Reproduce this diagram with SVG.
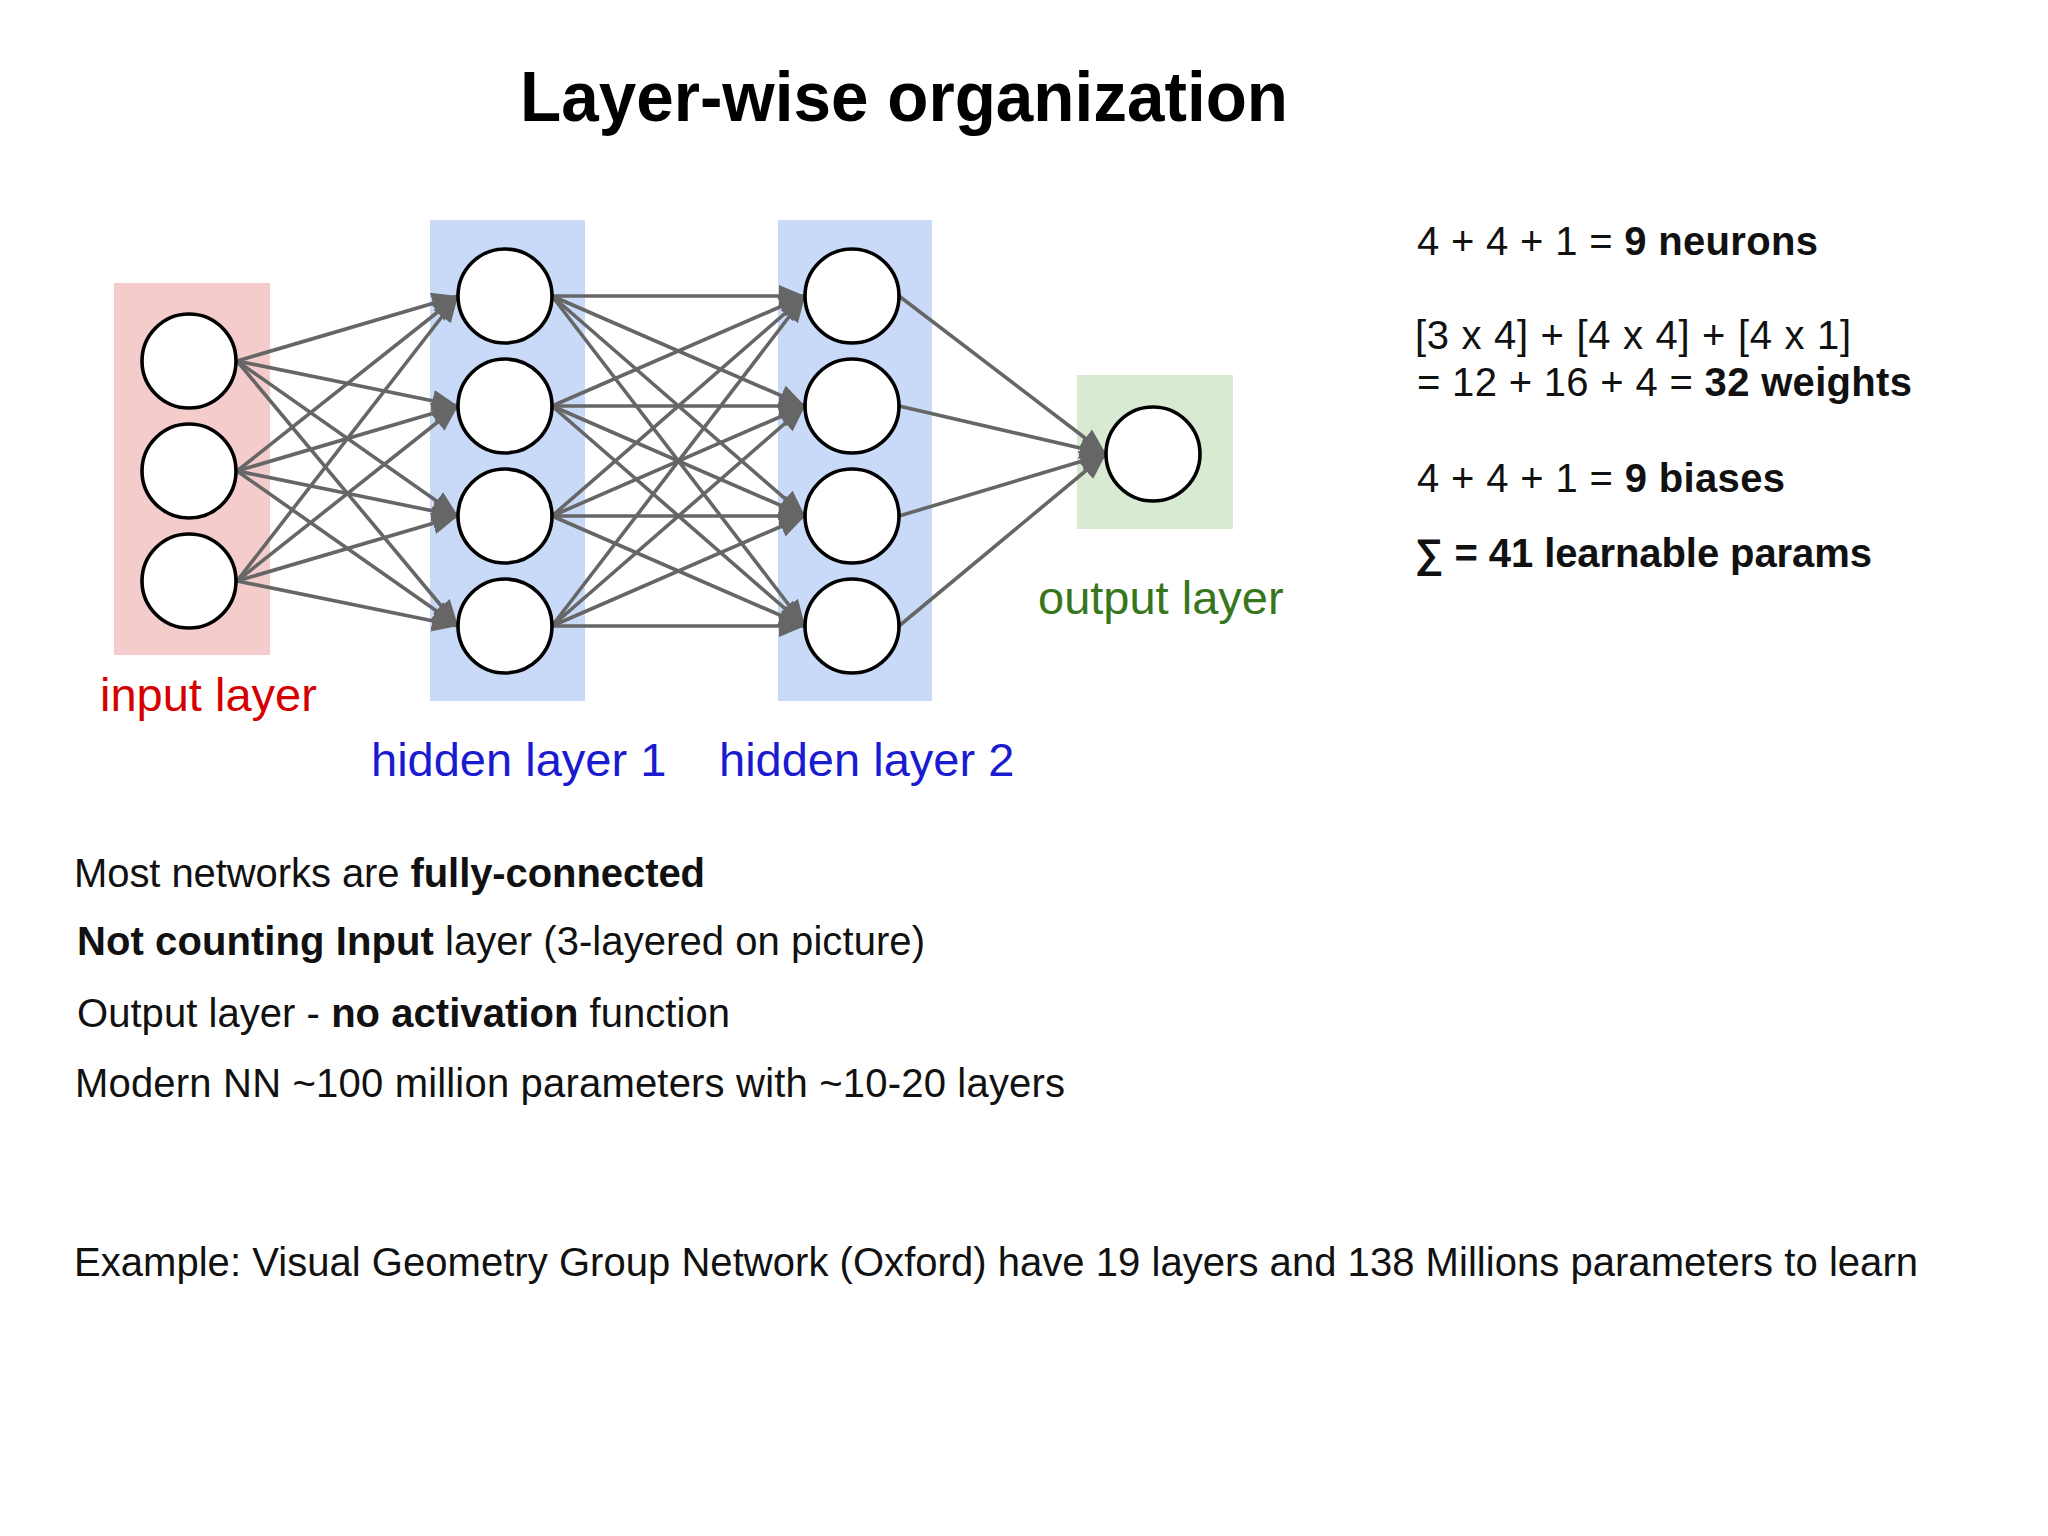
<svg xmlns="http://www.w3.org/2000/svg" width="2048" height="1536" viewBox="0 0 2048 1536">
<style>
text{font-family:"Liberation Sans",Arial,Helvetica,sans-serif;}
.b{font-weight:bold;}
.body{font-size:40px;fill:#111;}
.lbl{font-size:47px;}
.n{fill:#fff;stroke:#000;stroke-width:3.6;}
.c{stroke:#666;stroke-width:3.6;fill:none;marker-end:url(#ah);}
</style>
<defs>
<marker id="ah" markerUnits="userSpaceOnUse" markerWidth="26" markerHeight="22" viewBox="0 0 26 22" refX="26" refY="11" orient="auto">
<path d="M0,0 L26,11 L0,22 Z" fill="#666"/>
</marker>
</defs>
<rect width="2048" height="1536" fill="#fff"/>
<text id="title" x="520" y="121" class="b" font-size="71" textLength="768" lengthAdjust="spacingAndGlyphs" fill="#000">Layer-wise organization</text>

<g id="layer-backgrounds">
<rect id="input-bg" x="114" y="283" width="156" height="372" fill="#f4cccc"/>
<rect id="hidden1-bg" x="430" y="220" width="155" height="481" fill="#c9daf8"/>
<rect id="hidden2-bg" x="778" y="220" width="154" height="481" fill="#c9daf8"/>
<rect id="output-bg" x="1077" y="375" width="156" height="154" fill="#d9ead3"/>
</g>

<g id="connectors">
<line class="c" x1="237" y1="361" x2="458" y2="296"/>
<line class="c" x1="237" y1="361" x2="458" y2="406"/>
<line class="c" x1="237" y1="361" x2="458" y2="516"/>
<line class="c" x1="237" y1="361" x2="458" y2="626"/>
<line class="c" x1="237" y1="471" x2="458" y2="296"/>
<line class="c" x1="237" y1="471" x2="458" y2="406"/>
<line class="c" x1="237" y1="471" x2="458" y2="516"/>
<line class="c" x1="237" y1="471" x2="458" y2="626"/>
<line class="c" x1="237" y1="581" x2="458" y2="296"/>
<line class="c" x1="237" y1="581" x2="458" y2="406"/>
<line class="c" x1="237" y1="581" x2="458" y2="516"/>
<line class="c" x1="237" y1="581" x2="458" y2="626"/>

<line class="c" x1="552" y1="296" x2="805" y2="296"/>
<line class="c" x1="552" y1="296" x2="805" y2="406"/>
<line class="c" x1="552" y1="296" x2="805" y2="516"/>
<line class="c" x1="552" y1="296" x2="805" y2="626"/>
<line class="c" x1="552" y1="406" x2="805" y2="296"/>
<line class="c" x1="552" y1="406" x2="805" y2="406"/>
<line class="c" x1="552" y1="406" x2="805" y2="516"/>
<line class="c" x1="552" y1="406" x2="805" y2="626"/>
<line class="c" x1="552" y1="516" x2="805" y2="296"/>
<line class="c" x1="552" y1="516" x2="805" y2="406"/>
<line class="c" x1="552" y1="516" x2="805" y2="516"/>
<line class="c" x1="552" y1="516" x2="805" y2="626"/>
<line class="c" x1="552" y1="626" x2="805" y2="296"/>
<line class="c" x1="552" y1="626" x2="805" y2="406"/>
<line class="c" x1="552" y1="626" x2="805" y2="516"/>
<line class="c" x1="552" y1="626" x2="805" y2="626"/>

<line class="c" x1="899" y1="296" x2="1106" y2="454"/>
<line class="c" x1="899" y1="406" x2="1106" y2="454"/>
<line class="c" x1="899" y1="516" x2="1106" y2="454"/>
<line class="c" x1="899" y1="626" x2="1106" y2="454"/>
</g>

<g id="input-layer">
<circle class="n" cx="189" cy="361" r="47"/>
<circle class="n" cx="189" cy="471" r="47"/>
<circle class="n" cx="189" cy="581" r="47"/>
<text x="100" y="711" class="lbl" fill="#d50000">input layer</text>
</g>
<g id="hidden-layer-1">
<circle class="n" cx="505" cy="296" r="47"/>
<circle class="n" cx="505" cy="406" r="47"/>
<circle class="n" cx="505" cy="516" r="47"/>
<circle class="n" cx="505" cy="626" r="47"/>
<text x="371" y="776" class="lbl" fill="#1a1ad0">hidden layer 1</text>
</g>
<g id="hidden-layer-2">
<circle class="n" cx="852" cy="296" r="47"/>
<circle class="n" cx="852" cy="406" r="47"/>
<circle class="n" cx="852" cy="516" r="47"/>
<circle class="n" cx="852" cy="626" r="47"/>
<text x="719" y="776" class="lbl" fill="#1a1ad0">hidden layer 2</text>
</g>
<g id="output-layer">
<circle class="n" cx="1153" cy="454" r="47"/>
<text x="1038" y="614" class="lbl" fill="#38761d">output layer</text>
</g>

<g id="stats">
<text x="1417" y="255" class="body" textLength="401" lengthAdjust="spacing">4 + 4 + 1 = <tspan class="b">9 neurons</tspan></text>
<text x="1415" y="349" class="body" textLength="436" lengthAdjust="spacing">[3 x 4] + [4 x 4] + [4 x 1]</text>
<text x="1417" y="396" class="body" textLength="495" lengthAdjust="spacing">= 12 + 16 + 4 = <tspan class="b">32 weights</tspan></text>
<text x="1417" y="492" class="body" textLength="368" lengthAdjust="spacing">4 + 4 + 1 = <tspan class="b">9 biases</tspan></text>
<text x="1415" y="567" class="body b" textLength="457" lengthAdjust="spacing">∑ = 41 learnable params</text>
</g>

<g id="notes">
<text x="74" y="887" class="body" textLength="631" lengthAdjust="spacing">Most networks are <tspan class="b">fully-connected</tspan></text>
<text x="77" y="955" class="body" textLength="848" lengthAdjust="spacing"><tspan class="b">Not counting Input</tspan> layer (3-layered on picture)</text>
<text x="77" y="1027" class="body" textLength="653" lengthAdjust="spacing">Output layer - <tspan class="b">no activation</tspan> function</text>
<text x="75" y="1097" class="body" textLength="990" lengthAdjust="spacing">Modern NN ~100 million parameters with ~10-20 layers</text>
<text x="74" y="1276" class="body" textLength="1844" lengthAdjust="spacing">Example: Visual Geometry Group Network (Oxford) have 19 layers and 138 Millions parameters to learn</text>
</g>
</svg>
